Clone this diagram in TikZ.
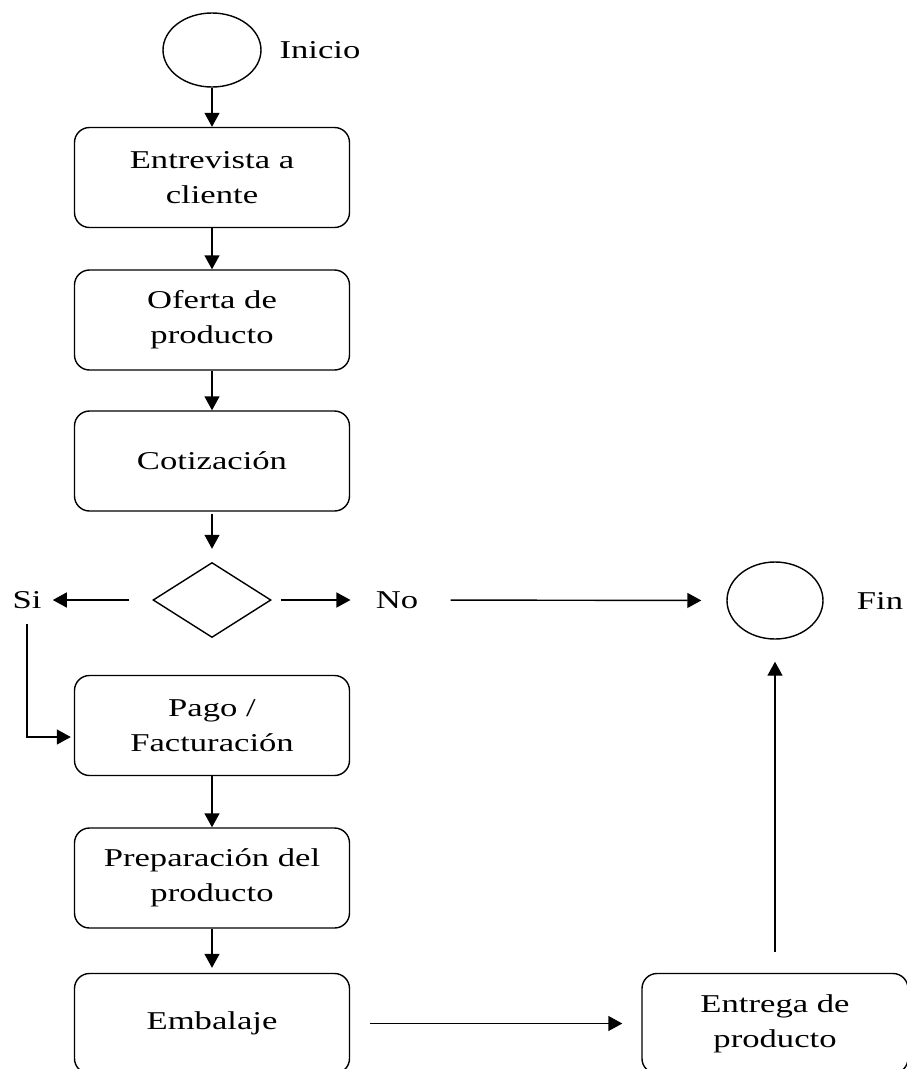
\documentclass[tikz,border=0pt]{standalone}
\usepackage{fontspec}
\setmainfont{Liberation Serif}[FakeStretch=1.35]
\usetikzlibrary{positioning,shapes.geometric,arrows.meta}

\begin{document}
\begin{tikzpicture}[
        node distance=2.85cm,
        every node/.style={
            font=\fontsize{14.6}{19.9}\selectfont,
            align=center,
            anchor=center
        },
        proceso/.style={
            rectangle,
            draw,
            line width=0.8pt,
            rounded corners=0.3cm,
            minimum width=5.5cm,
            minimum height=2cm,
            inner sep=3pt
        },
        terminal/.style={
            ellipse,
            draw,
            line width=0.8pt,
            inner sep=0pt
        },
        rombo/.style={
            diamond,
            draw,
            line width=0.8pt,
            inner sep=0pt,
            minimum width=2.36cm,
            minimum height=1.5cm
        },
        etiqueta/.style={
            inner sep=0pt
        },
        arrow/.style={
            -{Triangle[length=0.28cm,width=0.3cm]},
            line width=0.8pt
        }
    ]
        \useasboundingbox (0,0) rectangle (18.14,-21.38);

        % Main column
        \node[terminal, minimum width=1.96cm, minimum height=1.48cm] (inicio) at (4.24,-1.0) {};
        \node[etiqueta, right of=inicio, node distance=2.16cm] (lblinicio) {Inicio};
        \node[proceso, below of=inicio, node distance=2.55cm] (entrevista) {Entrevista a\\cliente};
        \node[proceso, below of=entrevista] (oferta) {Oferta de\\producto};
        \node[proceso, below of=oferta, node distance=2.82cm] (cotizacion) {Cotización};
        \node[rombo, below of=cotizacion, node distance=2.78cm] (dec) {};
        \node[etiqueta, left of=dec, node distance=3.7cm] (si) {Si};
        \node[etiqueta, right of=dec, node distance=3.7cm] (no) {No};
        \node[proceso, below of=dec, node distance=2.51cm] (pago) {Pago /\\Facturación};
        \node[proceso, below of=pago, node distance=3.05cm] (preparacion) {Preparación del\\producto};
        \node[proceso, below of=preparacion, node distance=2.91cm] (embalaje) {Embalaje};

        % Right column
        \node[proceso, right of=embalaje, node distance=11.26cm, minimum width=5.32cm] (entrega) {Entrega de\\producto};
        \node[terminal, above of=entrega, node distance=8.46cm, minimum width=1.92cm, minimum height=1.54cm] (fin) {};
        \node[etiqueta, right of=fin, node distance=2.1cm] (lblfin) {Fin};

        % Edges main column
        \draw[arrow] (inicio) -- (entrevista);
        \draw[arrow] (entrevista) -- (oferta);
        \draw[arrow] (oferta) -- (cotizacion);
        \draw[arrow, shorten <=0.04cm, shorten >=0.26cm] (cotizacion) -- (dec);

        % Decision branches
        \draw[arrow, shorten <=0.46cm, shorten >=0.22cm] (dec.west) -- (si.east);
        \draw[arrow, shorten <=0.18cm, shorten >=0.5cm] (dec.east) -- (no.west);
        \draw[arrow, shorten <=0.64cm, shorten >=0.5cm] (no.east) -- (fin.west);
        \draw[arrow, shorten <=0.3cm, shorten >=0.06cm] (si.south) |- ([yshift=-0.23cm]pago.west);

        \draw[arrow] (pago) -- (preparacion);
        \draw[arrow, shorten >=0.1cm] (preparacion) -- (embalaje);

        % Delivery and end
        \draw[arrow, shorten <=0.4cm, shorten >=0.38cm] (embalaje) -- (entrega);
        \draw[arrow, shorten <=0.42cm, shorten >=0.44cm] (entrega) -- (fin);

    \end{tikzpicture}
\end{document}
